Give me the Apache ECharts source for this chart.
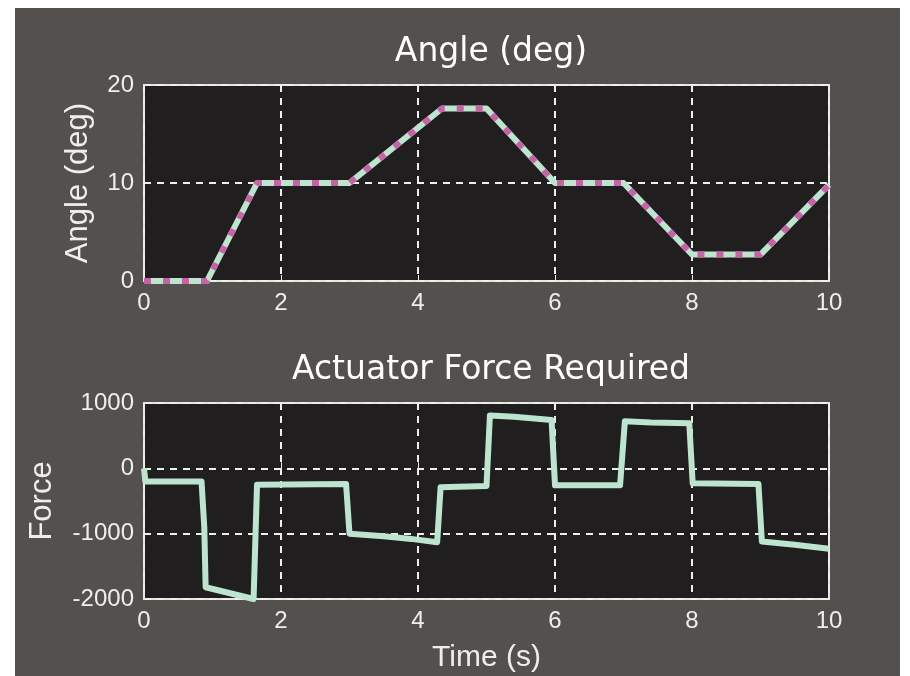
<!DOCTYPE html>
<html>
<head>
<meta charset="utf-8">
<script src="https://cdn.jsdelivr.net/npm/echarts@6/dist/echarts.min.js"></script>
<style>
  html, body { margin: 0; padding: 0; background: #ffffff; }
  #wrap { position: relative; width: 910px; height: 676px; }
  #panel { position: absolute; left: 15px; top: 8px; width: 885px; height: 668px; background: #54504d; }
  #chart { position: absolute; left: 0; top: 0; width: 910px; height: 676px; }
</style>
</head>
<body>
<div id="wrap">
  <div id="panel"></div>
  <div id="chart"></div>
</div>
<script>
// angle (deg) vs time
var angleTime = [0, 0.92, 1.65, 3.0, 3.3, 4.35, 5.0, 6.0, 7.0, 8.0, 9.0, 10];
var angleDeg  = [0, 0, 10, 10, 11.7, 17.6, 17.6, 10, 10, 2.7, 2.7, 9.8];

// actuator force vs time
var forceTime = [0, 0.02, 0.84, 0.88, 0.9, 1.6, 1.65, 2.95, 3.0, 3.5, 3.9, 4.28, 4.33,
                 5.0, 5.05, 5.4, 5.95, 6.0, 6.95, 7.02, 7.4, 7.96, 8.01,
                 8.97, 9.02, 9.5, 10];
var forceVal  = [0, -200, -200, -900, -1820, -2000, -250, -240, -1000, -1040, -1080, -1130, -290,
                 -270, 810, 790, 740, -260, -260, 720, 700, 690, -230,
                 -240, -1120, -1170, -1230];

var xTicks = [0, 2, 4, 6, 8, 10];

function pairs(xs, ys) {
  var out = [];
  for (var i = 0; i < xs.length; i++) out.push([xs[i], ys[i]]);
  return out;
}

var chart = echarts.init(document.getElementById('chart'), null, { renderer: 'canvas' });

var white = '#eeeeee';
var mint = '#bde4cf';
var pink = '#c862a6';
var tickFont = { color: white, fontFamily: 'Liberation Sans', fontSize: 24 };

function plain(v) { return String(v); }

function xAxisFor(gridIndex, name) {
  return {
    type: 'value',
    gridIndex: gridIndex,
    min: xTicks[0],
    max: xTicks[xTicks.length - 1],
    interval: 2,
    name: name,
    nameLocation: 'middle',
    nameGap: 44,
    nameTextStyle: { color: white, fontFamily: 'Liberation Sans', fontSize: 30 },
    axisLine: { show: false },
    axisTick: { show: true, inside: true, length: 6, lineStyle: { color: white, width: 1 } },
    axisLabel: Object.assign({ margin: 10, formatter: plain }, tickFont),
    splitLine: { show: true, lineStyle: { color: white, width: 2, type: [7, 6] } }
  };
}

function yAxisFor(gridIndex, min, max, interval, name, gap) {
  return {
    type: 'value',
    gridIndex: gridIndex,
    min: min,
    max: max,
    interval: interval,
    name: name,
    nameLocation: 'middle',
    nameRotate: 90,
    nameGap: gap,
    nameTextStyle: { color: white, fontFamily: 'Liberation Sans', fontSize: 31 },
    axisLine: { show: false },
    axisTick: { show: true, inside: true, length: 6, lineStyle: { color: white, width: 1 } },
    axisLabel: Object.assign({ margin: 10, formatter: plain }, tickFont),
    splitLine: { show: true, lineStyle: { color: white, width: 2, type: [7, 6] } }
  };
}

var option = {
  animation: false,
  backgroundColor: 'transparent',
  title: [
    {
      text: 'Angle (deg)',
      left: 486, top: 31, textAlign: 'center',
      textStyle: { color: '#ffffff', fontFamily: 'DejaVu Sans', fontSize: 33, fontWeight: 'normal' }
    },
    {
      text: 'Actuator Force Required',
      left: 486, top: 349, textAlign: 'center',
      textStyle: { color: '#ffffff', fontFamily: 'DejaVu Sans', fontSize: 33, fontWeight: 'normal' }
    }
  ],
  grid: [
    { left: 144, right: 81, top: 85, height: 196, show: true,
      backgroundColor: '#211e1f', borderColor: '#e6e6e6', borderWidth: 2 },
    { left: 144, right: 81, top: 403, height: 196, show: true,
      backgroundColor: '#211e1f', borderColor: '#e6e6e6', borderWidth: 2 }
  ],
  xAxis: [
    xAxisFor(0, ''),
    xAxisFor(1, 'Time (s)')
  ],
  yAxis: [
    yAxisFor(0, 0, 20, 10, 'Angle (deg)', 50),
    yAxisFor(1, -2000, 1000, 1000, 'Force', 86)
  ],
  series: [
    {
      type: 'line', xAxisIndex: 0, yAxisIndex: 0,
      data: pairs(angleTime, angleDeg),
      symbol: 'none',
      lineStyle: { color: mint, width: 6, cap: 'butt', join: 'round' },
      z: 3
    },
    {
      type: 'line', xAxisIndex: 0, yAxisIndex: 0,
      data: pairs(angleTime, angleDeg),
      symbol: 'none',
      lineStyle: { color: pink, width: 6, type: [7, 12], cap: 'butt' },
      z: 4
    },
    {
      type: 'line', xAxisIndex: 1, yAxisIndex: 1,
      data: pairs(forceTime, forceVal),
      symbol: 'none',
      lineStyle: { color: mint, width: 6, join: 'round' },
      z: 3
    }
  ]
};

chart.setOption(option);
</script>
</body>
</html>
